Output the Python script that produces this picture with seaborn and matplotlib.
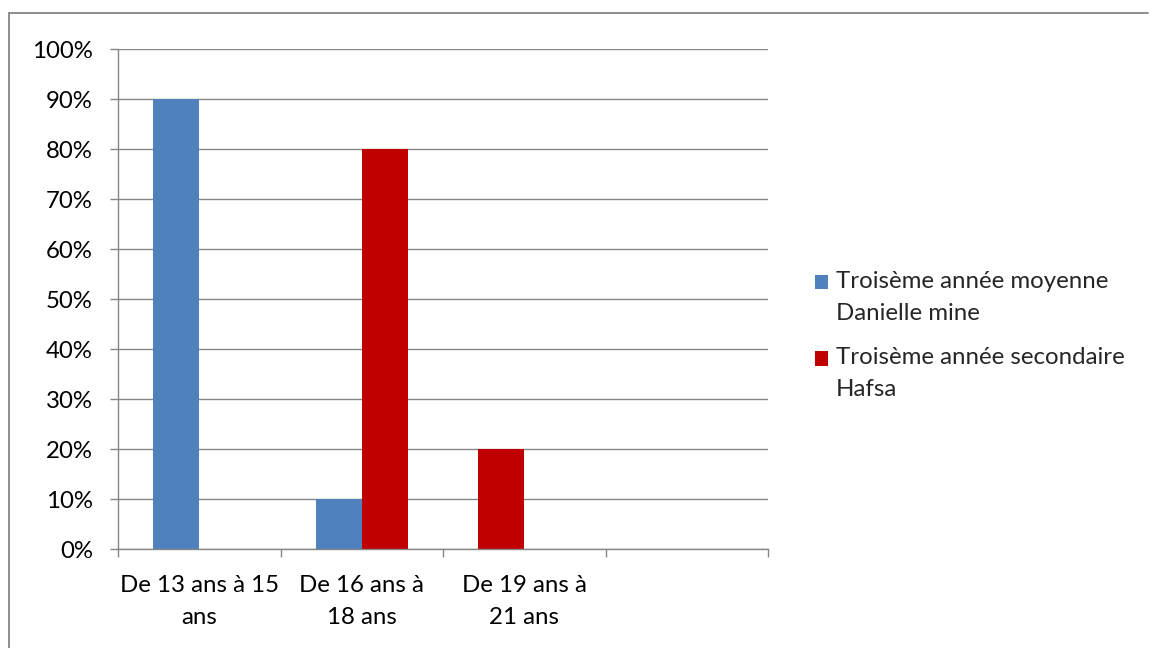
import numpy as np
import pandas as pd
import matplotlib
matplotlib.use("Agg")
import matplotlib.pyplot as plt
import seaborn as sns
from matplotlib.patches import Rectangle, Patch
from matplotlib.lines import Line2D
from matplotlib.legend_handler import HandlerPatch
from matplotlib.ticker import FixedLocator, PercentFormatter

categories = ["De 13 ans à 15\nans", "De 16 ans à\n18 ans", "De 19 ans à\n21 ans", " "]
series_names = ["Troisème année moyenne\nDanielle mine", "Troisème année secondaire\nHafsa"]
# values as drawn in the picture (the 19-21 bar sits in the first slot, coloured red)
moyenne = [90, 10, 20, 0]
secondaire = [0, 80, 0, 0]
colors = ["#4F81BD", "#C00000"]
moyenne_point_colors = ["#4F81BD", "#4F81BD", "#C00000", "#4F81BD"]

df = pd.DataFrame({
    "cat": categories * 2,
    "serie": [series_names[0]] * 4 + [series_names[1]] * 4,
    "val": moyenne + secondaire,
})

sns.set_style("white")
plt.rcParams["font.family"] = ["Lato", "DejaVu Sans"]
FS = 17.3
LS = 1.65
GRID = "#868686"

W, H = 1149, 648
fig = plt.figure(figsize=(W / 100, H / 100), dpi=100)
ax = fig.add_axes([118 / W, 1 - 549 / H, (768 - 118) / W, (549 - 49) / H])

sns.barplot(data=df, x="cat", y="val", hue="serie", order=categories,
            hue_order=series_names, palette=colors, width=0.566,
            saturation=1, linewidth=0, ax=ax, legend=True)

for bar, c in zip(ax.containers[0], moyenne_point_colors):
    bar.set_facecolor(c)

ax.set_xlim(-0.5, 3.5)
ax.set_ylim(0, 100)
ax.set_yticks(np.arange(0, 101, 10))
ax.yaxis.set_major_formatter(PercentFormatter(decimals=0))
ax.yaxis.grid(True, color=GRID, linewidth=1.0)
ax.set_axisbelow(True)
ax.set_xlabel("")
ax.set_ylabel("")

# category boundaries as major ticks, labels at centers as minor ticks
ax.xaxis.set_major_locator(FixedLocator(np.arange(-0.5, 3.6, 1.0)))
ax.xaxis.set_major_formatter(plt.NullFormatter())
ax.set_xticks(np.arange(4), labels=categories, minor=True)
ax.tick_params(axis="x", which="major", direction="out", length=6, width=1, color=GRID, bottom=True)
ax.tick_params(axis="x", which="minor", length=0, pad=19, labelsize=FS, labelcolor="black")
for t in ax.get_xticklabels(minor=True):
    t.set_linespacing(LS)
ax.tick_params(axis="y", direction="out", length=6, width=1, color=GRID, left=True,
               pad=12, labelsize=FS, labelcolor="black")

for s in ["top", "right"]:
    ax.spines[s].set_visible(False)
for s in ["left", "bottom"]:
    ax.spines[s].set_color(GRID)
    ax.spines[s].set_linewidth(1.0)

# legend
handles, labels = ax.get_legend_handles_labels()
if ax.get_legend() is not None:
    ax.get_legend().remove()

SHIFT = 11.0

def make_patch(legend, orig_handle, xdescent, ydescent, width, height, fontsize):
    return Rectangle((-xdescent, -ydescent + SHIFT), width, height)

leg = fig.legend(handles, labels, loc="upper left",
                 bbox_to_anchor=(815 / W, 1 - 271 / H), frameon=False,
                 fontsize=FS, handlelength=0.54, handleheight=0.54,
                 handletextpad=0.33, labelspacing=0.97, borderpad=0, borderaxespad=0,
                 handler_map={Patch: HandlerPatch(patch_func=make_patch)})
for t in leg.get_texts():
    t.set_linespacing(LS)

# outer chart border
fig.add_artist(Line2D([9 / W, 1148 / W], [1 - 13 / H, 1 - 13 / H], color=GRID, linewidth=1.3,
                      transform=fig.transFigure))
fig.add_artist(Line2D([9 / W, 9 / W], [1 - 13 / H, 0], color=GRID, linewidth=1.3,
                      transform=fig.transFigure))

fig.savefig("out.png", dpi=100)
